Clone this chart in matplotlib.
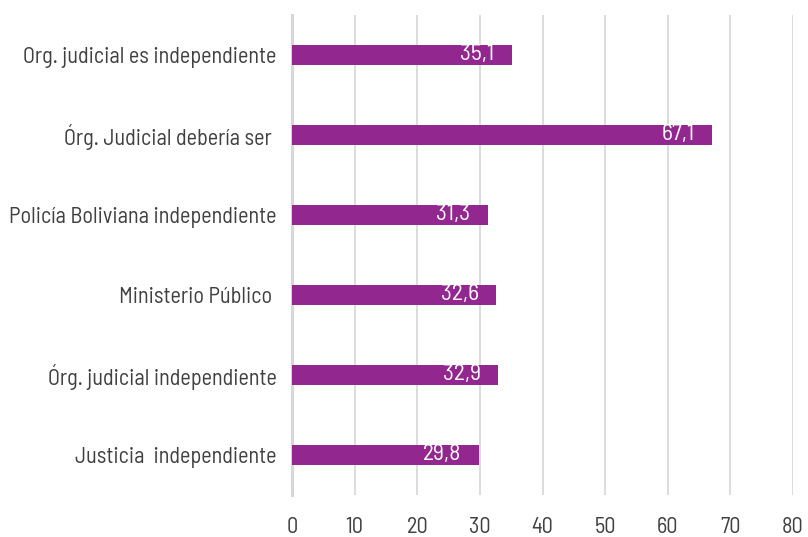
import matplotlib
matplotlib.use("Agg")
import matplotlib.pyplot as plt
from matplotlib import font_manager

names = {f.name for f in font_manager.fontManager.ttflist}
fam = [n for n in ['Barlow Semi Condensed', 'Liberation Sans Narrow'] if n in names] + ['DejaVu Sans']
plt.rcParams['font.family'] = fam

categories = ["Org. judicial es independiente", "Órg. Judicial debería ser ",
              "Policía Boliviana independiente", "Ministerio Público ",
              "Órg. judicial independiente", "Justicia  independiente"]
values = [35.1, 67.1, 31.3, 32.6, 32.9, 29.8]
xticks = [0, 10, 20, 30, 40, 50, 60, 70, 80]

fig = plt.figure(figsize=(8.08, 5.37), dpi=100)
ax = fig.add_axes([292/808, 1-495/537, (793-292)/808, 480/537])

pos = list(range(len(categories)))[::-1]
ax.barh(pos, values, height=0.25, color='#92278F', zorder=3)
for p, v in zip(pos, values):
    ax.text(v - 2.8, p, f"{v:.1f}".replace('.', ','), color='white', fontsize=17,
            ha='right', va='center', zorder=4)

ax.set_xlim(0, 80)
ax.set_ylim(-0.5, 5.5)
ax.set_xticks(xticks)
ax.set_xticklabels([str(t) for t in xticks])
ax.set_yticks(pos)
ax.set_yticklabels(categories)
ax.tick_params(axis='both', length=0, labelsize=16, colors='#404040')
ax.tick_params(axis='y', pad=11)
ax.tick_params(axis='x', pad=16)
ax.xaxis.grid(True, color='#D9D9D9', linewidth=1.3, zorder=0)
for s in ['top', 'right', 'bottom']:
    ax.spines[s].set_visible(False)
ax.spines['left'].set_color('#D0D0D0')
ax.spines['left'].set_linewidth(2)
ax.spines['left'].set_zorder(1)

fig.savefig('out.png', dpi=100)
